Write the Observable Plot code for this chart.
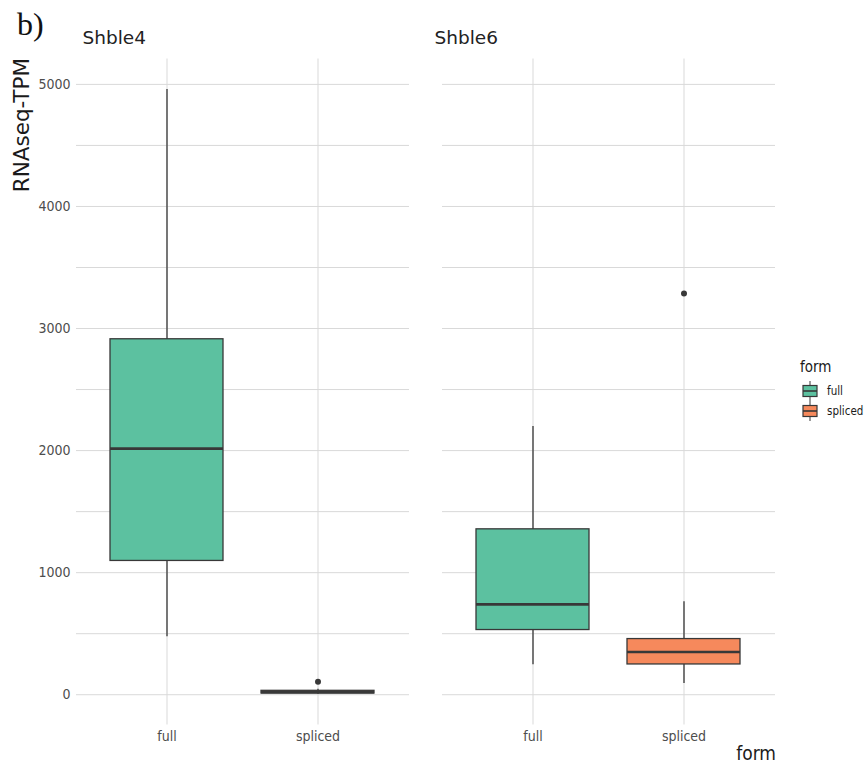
<!DOCTYPE html>
<html>
<head>
<meta charset="utf-8">
<script src="https://cdn.jsdelivr.net/npm/d3@7"></script>
<script src="https://cdn.jsdelivr.net/npm/@observablehq/plot@0.6"></script>
<style>
  html, body { margin: 0; padding: 0; background: #fff; }
  #wrap { position: relative; width: 866px; height: 767px; }
  #wrap svg.plot { position: absolute; left: 0; top: 0; }
  .ov { position: absolute; white-space: nowrap; color: #1a1a1a; }
  .cond { font-family: "Liberation Sans Narrow", "DejaVu Sans Condensed", Roboto, sans-serif; }
</style>
</head>
<body>
<div id="wrap"></div>
<script>
// ---- data ----
const panelNames = ["Shble4", "Shble6"];
const formNames = ["full", "spliced"];
const formColors = ["#5cc1a0", "#f6895c"];

const boxPanel = ["Shble4", "Shble4", "Shble6", "Shble6"];
const boxForm = ["full", "spliced", "full", "spliced"];
const whiskerLow = [475, 3, 246, 93];
const quart1 = [1096, 10, 530, 248];
const medianVal = [2016, 20, 740, 350];
const quart3 = [2912, 32, 1355, 456];
const whiskerHigh = [4959, 45, 2197, 762];

const outlierPanel = ["Shble4", "Shble6"];
const outlierForm = ["spliced", "spliced"];
const outlierValue = [107, 3287];

const yTicks = [0, 1000, 2000, 3000, 4000, 5000];
const yGrid = [0, 500, 1000, 1500, 2000, 2500, 3000, 3500, 4000, 4500, 5000];

// ---- tables built from the arrays ----
const boxes = boxPanel.map((p, i) => ({
  panel: p, form: boxForm[i], lo: whiskerLow[i], q1: quart1[i],
  med: medianVal[i], q3: quart3[i], hi: whiskerHigh[i]
}));
const outliers = outlierPanel.map((p, i) => ({panel: p, form: outlierForm[i], value: outlierValue[i]}));

const condFont = '"Liberation Sans Narrow", "DejaVu Sans Condensed", Roboto, sans-serif';
const gridColor = "#d9d9d9";
const ink = "#383838";

const stripText = (name, dx) => Plot.text([name], {fx: d => d, text: d => d, frameAnchor: "top-left",
  textAnchor: "start", lineAnchor: "bottom", dx, dy: -15, fontSize: 18.5, fontFamily: "DejaVu Sans", fill: "#222"});

const chart = Plot.plot({
  width: 866,
  height: 767,
  marginLeft: 76,
  marginRight: 90,
  marginTop: 58.5,
  marginBottom: 42.5,
  style: {fontFamily: condFont, fontSize: "14px", color: "#4d4d4d", background: "white"},
  fx: {domain: panelNames, paddingInner: 0.09, paddingOuter: 0, axis: null},
  x: {domain: formNames, paddingInner: 0.25, paddingOuter: 0.225},
  y: {domain: [-248, 5208]},
  color: {domain: formNames, range: formColors},
  marks: [
    Plot.gridY({ticks: yGrid, stroke: gridColor, strokeOpacity: 1, strokeWidth: 1}),
    Plot.gridX({stroke: gridColor, strokeOpacity: 1, strokeWidth: 1}),
    Plot.axisY({ticks: yTicks, tickSize: 0, tickPadding: 6, tickFormat: d3.format("d"), label: null, fontSize: 14, fill: "#4d4d4d"}),
    Plot.axisX({tickSize: 0, tickPadding: 6, label: null, fontSize: 14, fill: "#4d4d4d"}),
    Plot.ruleX(boxes, {fx: "panel", x: "form", y1: "lo", y2: "hi", stroke: ink, strokeWidth: 1.3}),
    Plot.barY(boxes, {fx: "panel", x: "form", y1: "q1", y2: "q3", fill: "form", stroke: ink, strokeWidth: 1.3}),
    Plot.tickY(boxes, {fx: "panel", x: "form", y: "med", stroke: ink, strokeWidth: 2.6}),
    Plot.dot(outliers, {fx: "panel", x: "form", y: "value", r: 3, fill: ink, stroke: null}),
    stripText(panelNames[0], 6),
    stripText(panelNames[1], -8)
  ]
});
chart.classList.add("plot");
const wrap = document.getElementById("wrap");
wrap.appendChild(chart);

function overlay(html, css, cls) {
  const d = document.createElement("div");
  d.className = "ov" + (cls ? " " + cls : "");
  d.innerHTML = html;
  Object.assign(d.style, css);
  wrap.appendChild(d);
  return d;
}

// panel tag
overlay("b)", {left: "17px", top: "8px", fontFamily: '"Liberation Serif", serif', fontSize: "32px", color: "#111", lineHeight: "1"});
// y title (rotated)
overlay("RNAseq-TPM", {left: "21.5px", top: "58px", fontFamily: '"DejaVu Sans", sans-serif', fontSize: "21.5px",
  transformOrigin: "0 0", transform: "rotate(-90deg) translate(-100%, -50%)", lineHeight: "1"});
// x title
overlay("form", {right: "90px", top: "744px", fontSize: "19px", lineHeight: "1"}, "cond");

// legend
const leg = overlay("", {left: "800px", top: "358px"}, "cond");
leg.innerHTML = '<div style="font-size:15px;line-height:18px;margin-bottom:5px;">form</div>';
formNames.forEach((f, i) => {
  const row = document.createElement("div");
  row.style.cssText = "display:flex;align-items:center;height:20px;";
  const s = d3.create("svg").attr("width", 20).attr("height", 20);
  s.append("line").attr("x1", 10).attr("x2", 10).attr("y1", 0).attr("y2", 20).attr("stroke", ink).attr("stroke-width", 1);
  s.append("rect").attr("x", 3).attr("y", 4.5).attr("width", 14).attr("height", 11)
    .attr("fill", formColors[i]).attr("stroke", ink).attr("stroke-width", 1.2);
  s.append("line").attr("x1", 3).attr("x2", 17).attr("y1", 10).attr("y2", 10).attr("stroke", ink).attr("stroke-width", 1.6);
  row.appendChild(s.node());
  const t = document.createElement("span");
  t.textContent = f;
  t.style.cssText = "font-size:11.5px;margin-left:7px;color:#1a1a1a;";
  row.appendChild(t);
  leg.appendChild(row);
});
</script>
</body>
</html>
